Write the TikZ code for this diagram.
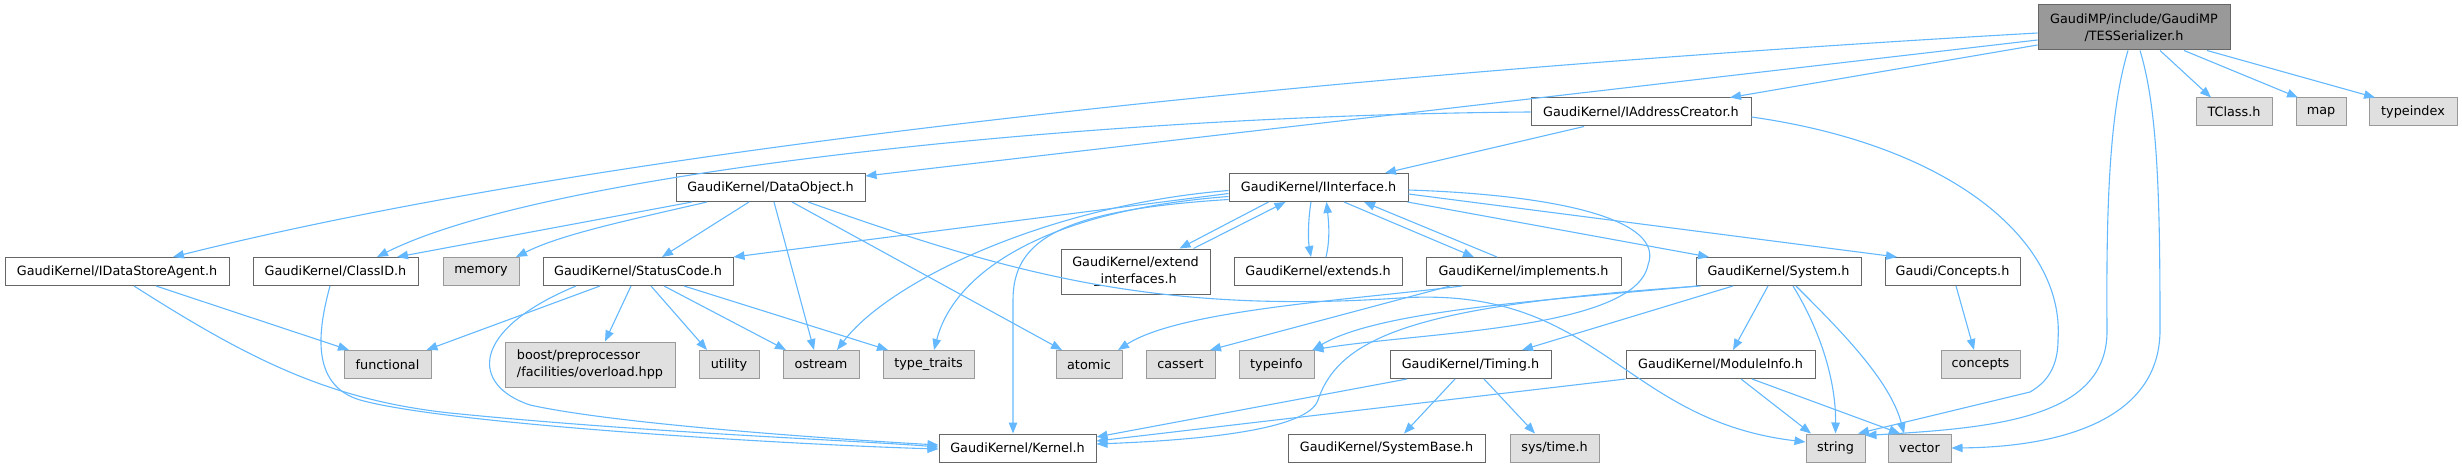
\documentclass[tikz,border=0pt]{standalone}
\usepackage{fontspec}
\setmainfont{DejaVu Sans}
\usetikzlibrary{arrows.meta}
\definecolor{edgec}{HTML}{63B8FF}
\definecolor{bordw}{HTML}{666666}
\definecolor{bordg}{HTML}{999999}
\definecolor{fillg}{HTML}{E0E0E0}
\definecolor{fillr}{HTML}{999999}
\begin{document}
\begin{tikzpicture}[x=1pt,y=-1pt,
  base/.style={draw, line width=1pt, inner sep=0pt, minimum height=28pt, align=center,
    font=\fontsize{12.8}{16.5}\selectfont, text=black},
  wbox/.style={base, draw=bordw, fill=white},
  gbox/.style={base, draw=bordg, fill=fillg},
  rbox/.style={base, draw=bordw, fill=fillr},
  dep/.style={draw=edgec, line width=1.1pt, -{Triangle[length=11pt,width=8.5pt]}}
]
\useasboundingbox (0,0) rectangle (2462,468);
% nodes
\node[rbox, minimum width=192pt, minimum height=45pt] (T) at (2134,27.5) {GaudiMP/include/GaudiMP\\/TESSerializer.h};
\node[gbox, minimum width=76pt] (tclass) at (2234,112) {TClass.h};
\node[gbox, minimum width=50pt] (map) at (2321,112) {map};
\node[gbox, minimum width=88pt] (typeindex) at (2413,112) {typeindex};
\node[wbox, minimum width=220pt] (addr) at (1641,112) {GaudiKernel/IAddressCreator.h};
\node[wbox, minimum width=189pt] (dobj) at (770.5,187.5) {GaudiKernel/DataObject.h};
\node[wbox, minimum width=179pt] (iif) at (1318.5,187.5) {GaudiKernel/IInterface.h};
\node[wbox, minimum width=224pt] (ids) at (117,271.5) {GaudiKernel/IDataStoreAgent.h};
\node[wbox, minimum width=165pt] (classid) at (335.5,271.5) {GaudiKernel/ClassID.h};
\node[gbox, minimum width=76pt] (memory) at (481,271.5) {memory};
\node[wbox, minimum width=190pt] (status) at (638,271.5) {GaudiKernel/StatusCode.h};
\node[wbox, minimum width=149pt, minimum height=45pt] (extif) at (1135.5,271.5) {GaudiKernel/extend\\\_interfaces.h};
\node[wbox, minimum width=168pt] (extends) at (1318,271.5) {GaudiKernel/extends.h};
\node[wbox, minimum width=195pt] (impl) at (1523.5,271.5) {GaudiKernel/implements.h};
\node[wbox, minimum width=165pt] (system) at (1778.5,271.5) {GaudiKernel/System.h};
\node[wbox, minimum width=135pt] (concH) at (1952.5,271.5) {Gaudi/Concepts.h};
\node[gbox, minimum width=87pt] (functional) at (387.5,364.5) {functional};
\node[gbox, minimum width=170pt, minimum height=45pt, align=left] (boost) at (590,364.5) {boost/preprocessor\\/facilities/overload.hpp};
\node[gbox, minimum width=60pt] (utility) at (729,364.5) {utility};
\node[gbox, minimum width=76pt] (ostream) at (821,364.5) {ostream};
\node[gbox, minimum width=91pt] (typetraits) at (928.5,364.5) {type\_traits};
\node[gbox, minimum width=66pt] (atomic) at (1089,364.5) {atomic};
\node[gbox, minimum width=69pt] (cassert) at (1180.5,364.5) {cassert};
\node[gbox, minimum width=75pt] (typeinfo) at (1276.5,364.5) {typeinfo};
\node[wbox, minimum width=161pt] (timing) at (1470.5,364.5) {GaudiKernel/Timing.h};
\node[wbox, minimum width=189pt] (modinfo) at (1720.5,364.5) {GaudiKernel/ModuleInfo.h};
\node[gbox, minimum width=79pt] (concepts) at (1980.5,364.5) {concepts};
\node[wbox, minimum width=157pt] (kernel) at (1017.5,448) {GaudiKernel/Kernel.h};
\node[wbox, minimum width=197pt] (sysbase) at (1386.5,448) {GaudiKernel/SystemBase.h};
\node[gbox, minimum width=89pt] (systime) at (1554.5,448) {sys/time.h};
\node[gbox, minimum width=59pt] (string) at (1835.5,448) {string};
\node[gbox, minimum width=63pt] (vector) at (1919.5,448) {vector};
% edges from TESSerializer
\draw[dep] ([yshift=-5.5pt]T.west) .. controls (1300,75) and (600,150) .. ([xshift=56pt]ids.north);
\draw[dep] ([yshift=-12.5pt]T.west) -- ([yshift=11.5pt]dobj.east);
\draw[dep] ([yshift=-17.5pt]T.west) -- ([xshift=89pt]addr.north);
\draw[dep] ([xshift=26pt]T.south) -- ([xshift=-23pt]tclass.north);
\draw[dep] ([xshift=50pt]T.south) -- ([xshift=-23pt]map.north);
\draw[dep] ([xshift=73pt]T.south) -- ([xshift=-38pt]typeindex.north);
\draw[dep] ([xshift=-6pt]T.south) .. controls (2110,110) and (2106,200) .. (2107,330) .. controls (2108,420) and (1990,428) .. ([yshift=-2pt]string.north east);
\draw[dep] ([xshift=6pt]T.south) .. controls (2158,110) and (2160,200) .. (2160,330) .. controls (2160,420) and (2060,447) .. (vector.east);
% IAddressCreator
\draw[dep] ([xshift=-57pt]addr.south) -- ([xshift=66.5pt]iif.north);
\draw[dep] (addr.west) .. controls (1100,115) and (550,170) .. ([xshift=41.5pt]classid.north);
\draw[dep] ([yshift=-5pt]addr.east) .. controls (1950,145) and (2065,240) .. (2058,340) .. controls (2058,372) and (2042,385) .. (2030,392) -- ([xshift=-7.5pt]string.north east);
% DataObject
\draw[dep] ([xshift=-78.5pt]dobj.south) -- ([xshift=61.5pt]classid.north);
\draw[dep] ([xshift=-63.5pt]dobj.south) .. controls (620,222) and (560,235) .. ([xshift=35pt]memory.north);
\draw[dep] ([xshift=-21.5pt]dobj.south) -- ([xshift=24pt]status.north);
\draw[dep] ([xshift=3.5pt]dobj.south) -- ([xshift=-7pt]ostream.north);
\draw[dep] ([xshift=21.5pt]dobj.south) -- ([xshift=-27pt]atomic.north);
\draw[dep] ([xshift=37.5pt]dobj.south) .. controls (1000,270) and (1150,315) .. (1400,298) .. controls (1600,285) and (1620,420) .. ([yshift=6pt]string.west);
% IInterface
\draw[dep] ([yshift=-6pt]iif.west) -- (status.north east);
\draw[dep] ([yshift=-3pt]iif.west) .. controls (1050,205) and (890,280) .. ([xshift=16pt]ostream.north);
\draw[dep] ([yshift=-9pt]iif.west) .. controls (1050,210) and (955,270) .. ([xshift=5.5pt]typetraits.north);
\draw[dep] ([yshift=-12pt]iif.west) .. controls (1060,210) and (1013,240) .. (1013,300) -- ([xshift=-4.5pt]kernel.north);
\draw[dep] ([xshift=-50pt]iif.south) -- ([xshift=44pt]extif.north);
\draw[dep] ([xshift=58pt]extif.north) -- ([xshift=-33pt]iif.south);
\draw[dep] ([xshift=-7.5pt]iif.south) .. controls (1308,220) and (1308,240) .. ([xshift=-7pt]extends.north);
\draw[dep] ([xshift=8pt]extends.north) .. controls (1330,240) and (1329,225) .. ([xshift=8pt]iif.south);
\draw[dep] ([xshift=25.5pt]iif.south) -- ([xshift=-49.5pt]impl.north);
\draw[dep] ([xshift=-26.5pt]impl.north) -- ([xshift=45.5pt]iif.south);
\draw[dep] ([xshift=-1pt]iif.south east) -- ([xshift=-69.5pt]system.north);
\draw[dep] ([yshift=-6.5pt]iif.east) -- ([xshift=-55.5pt]concH.north);
\draw[dep] ([yshift=-2.5pt]iif.east) .. controls (1560,195) and (1665,220) .. (1648,265) .. controls (1635,330) and (1420,332) .. ([xshift=-2pt]typeinfo.north east);
% implements
\draw[dep] ([xshift=-61.5pt]impl.south) .. controls (1350,300) and (1180,310) .. ([xshift=29pt]atomic.north);
\draw[dep] ([xshift=-73.5pt]impl.south) -- ([xshift=29.5pt]cassert.north);
% System
\draw[dep] ([xshift=-81pt]system.south) .. controls (1550,300) and (1380,310) .. ([xshift=-2pt]typeinfo.north east);
\draw[dep] ([xshift=-78pt]system.south) .. controls (1420,305) and (1340,335) .. (1318,400) .. controls (1308,430) and (1200,440) .. ([yshift=4pt]kernel.east);
\draw[dep] ([xshift=-45.5pt]system.south) -- ([xshift=51.5pt]timing.north);
\draw[dep] ([xshift=-10.5pt]system.south) -- ([xshift=12.5pt]modinfo.north);
\draw[dep] ([xshift=14.5pt]system.south) .. controls (1820,330) and (1836,380) .. (string.north);
\draw[dep] ([xshift=17.5pt]system.south) .. controls (1840,330) and (1890,380) .. ([xshift=-15.5pt]vector.north);
% Concepts
\draw[dep] ([xshift=3.5pt]concH.south) -- ([xshift=-6.5pt]concepts.north);
% Timing
\draw[dep] ([xshift=-63.5pt]timing.south) -- ([yshift=11pt]kernel.east);
\draw[dep] ([xshift=-15.5pt]timing.south) -- ([xshift=17.5pt]sysbase.north);
\draw[dep] ([xshift=13.5pt]timing.south) -- ([xshift=-19.5pt]systime.north);
% ModuleInfo
\draw[dep] (modinfo.south west) -- ([yshift=7pt]kernel.east);
\draw[dep] ([xshift=20.5pt]modinfo.south) -- ([xshift=-24.5pt]string.north);
\draw[dep] ([xshift=31.5pt]modinfo.south) -- ([xshift=-19.5pt]vector.north);
% StatusCode
\draw[dep] ([xshift=-38pt]status.south) -- ([xshift=39pt]functional.north);
\draw[dep] ([xshift=-62pt]status.south) .. controls (470,330) and (470,385) .. (530,405) .. controls (620,425) and (850,440) .. ([yshift=3pt]kernel.west);
\draw[dep] ([xshift=-7pt]status.south) -- ([xshift=15pt]boost.north);
\draw[dep] ([xshift=13pt]status.south) -- ([xshift=-22pt]utility.north);
\draw[dep] ([xshift=26pt]status.south) -- ([xshift=-35pt]ostream.north);
\draw[dep] ([xshift=46pt]status.south) -- ([xshift=-40.5pt]typetraits.north);
% IDataStoreAgent and ClassID
\draw[dep] ([xshift=39pt]ids.south) -- ([xshift=-38.5pt]functional.north);
\draw[dep] ([xshift=17pt]ids.south) .. controls (250,360) and (330,400) .. (450,413) .. controls (650,433) and (850,440) .. ([yshift=1pt]kernel.west);
\draw[dep] ([xshift=-5.5pt]classid.south) .. controls (318,330) and (310,385) .. (360,400) .. controls (450,425) and (800,445) .. ([yshift=-1pt]kernel.west);
\end{tikzpicture}
\end{document}
